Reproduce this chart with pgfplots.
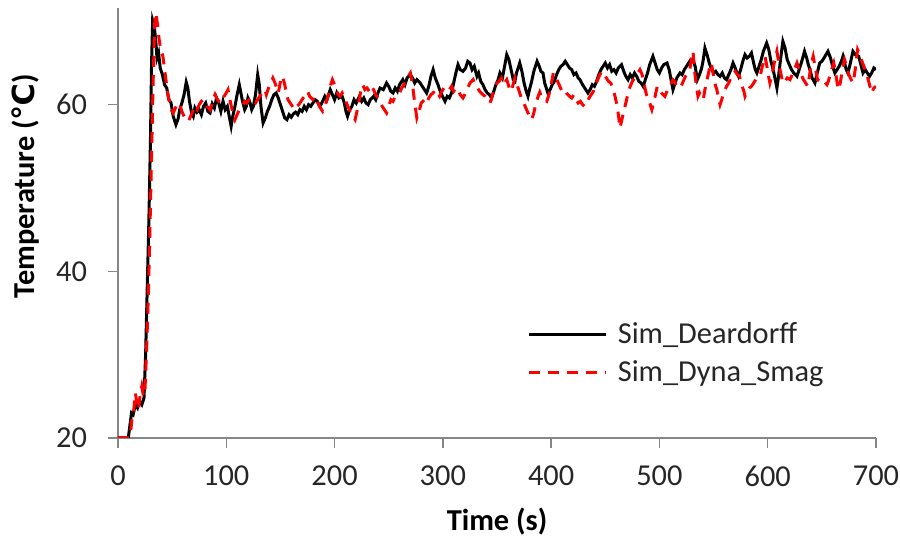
\documentclass[border=0pt]{standalone}
\usepackage{pgfplots}
\pgfplotsset{compat=1.18}
\usepackage{fontspec}
\setmainfont{Carlito}
\newfontfamily\dejavu{DejaVu Sans}
\definecolor{axgray}{RGB}{134,134,134}
\definecolor{txt}{RGB}{38,38,38}

\begin{document}
\begin{tikzpicture}
\begin{axis}[
  scale only axis, width=379pt, height=215pt,
  xmin=0, xmax=700, ymin=20, ymax=71.6,
  axis lines=left,
  axis line style={-, draw=axgray, line width=0.75pt},
  xtick={0,100,...,700}, ytick={20,40,60},
  tick align=outside, major tick length=5pt,
  tick style={draw=axgray, line width=0.75pt},
  /pgf/number format/assume math mode=true,
  tick label style={font=\fontsize{15.2}{18}\selectfont, text=txt},
  yticklabel style={xshift=-7pt},
  xticklabel style={yshift=-5.5pt},
  xlabel={Time (s)},
  ylabel={Temperature ({\dejavu\bfseries ℃})},
  label style={font=\fontsize{15.2}{18}\selectfont\bfseries},
  xlabel style={at={(axis description cs:0.5,-0.1953)}, anchor=center},
  ylabel style={at={(axis description cs:-0.1214,0.586)}, anchor=center},
  legend style={at={(axis description cs:0.737,0.1965)}, anchor=center,
    draw=none, fill=none, font=\fontsize{15.2}{18}\selectfont, text=txt,
    nodes={inner sep=1pt}, row sep=5pt, cells={anchor=west},
    /tikz/every odd column/.append style={column sep=4pt}},
  legend image code/.code={\draw[#1] (0pt,0pt) -- (38.5pt,0pt);},
]
\addplot[black, line width=1.5pt] coordinates {
(0,20) (5,20) (9.5,20) (11,21.5) (12.5,23) (14,22.8) (16,24) (18,23.6) (20,24.4) (22,24) (24,24.8)
(25.5,30) (27,38) (28.5,46) (30,56) (31,65) (32,70.1) (33.5,69.4) (35,67.5) (36,65.6) (37.5,66.2)
(39,64.4) (41,63.6) (43,62.4) (45,62) (47,60.6) (49,60.2) (51,58.6) (53.5,57.6) (55.5,58.3) (57,59.4)
(59,60.2) (61,61.2) (63,62.7) (64.5,62) (66,60.4) (68,59) (69.5,58.6) (71,59.6) (73,59.1) (75,59.4)
(77,58.8) (79,59.8) (81,60.2) (83,59.2) (85,59.0) (87,60.1) (89,59.6) (91,60.8) (93,60.2) (95,59.2)
(97,60.4) (99,59.4) (101,59.8) (103,58.4) (104.5,57.4) (106,58.6) (108,59.8) (110,61.2) (112,62.4)
(113.5,61.4) (115,60.4) (117,59.4) (118.5,59.8) (120,60.8) (122,60.2) (123.5,59.4) (125,59.8)
(127,61.2) (129,63.6) (130.5,62.4) (132,59.8) (134,57.8) (136,58.4) (138,59.2) (140,59.8) (142,60.6)
(144,61.2) (146,61.4) (148,60.8) (150,60.0) (152,59.2) (154,58.4) (156,58.2) (158,58.8) (160,58.5)
(162,58.9) (164,59.1) (166,58.8) (168,59.4) (170,59.2) (172,59.8) (174,59.4) (176,60.0) (178,59.8)
(180,60.2) (182,60.6) (184,60.4) (186.5,59.8) (189,60.4) (191,61.0) (193,60.6) (196,61.8) (198,61.2)
(200,60.6) (202,61.4) (204,60.8) (207,61.0) (209,60.2) (210.5,59.2) (212,58.6) (214,59.4) (216,59.8)
(218,60.6) (220,60.2) (223,61.0) (225,60.4) (227,60.8) (229,60.2) (231,60.0) (233,60.6) (236,61.0)
(238,60.6) (240,61.4) (242,62.0) (245,61.8) (248,62.6) (250,62.2) (252,61.6) (254,61.4) (256,62.0)
(258,61.6) (260,62.4) (263,63.0) (265,62.4) (267,63.2) (270,63.6) (272,63.2) (274,62.6) (276,63.0)
(279,62.6) (281,62.2) (283,61.8) (285,61.4) (287,62.2) (289,63.4) (291,64.2) (293,63.2) (295.5,62.4)
(297,61.8) (299,61.2) (302,60.4) (304,61.0) (306,60.8) (308,61.4) (310,62.6) (312,63.8) (314,64.8)
(316,64.2) (318.6,64.0) (321,64.4) (323,65.2) (325,65.0) (327,64.2) (329,64.6) (331.5,63.4) (333,63.8)
(335,62.8) (337,62.4) (339,61.8) (341,61.4) (343,61.2) (345,60.8) (347,61.6) (349,62.4) (351,63.0)
(352.7,63.8) (355,63.2) (357,64.6) (359,66.0) (361,65.4) (363,64.2) (365,63.0) (366.6,62.8) (368,63.8)
(371,65.0) (373,64.0) (375,62.6) (377,61.6) (378.6,61.0) (380,61.8) (382,62.8) (384,64.0) (387,65.2)
(389,64.6) (390.5,64.0) (392.5,63.8) (394,62.6) (397,61.4) (399,61.8) (401,62.4) (403,62.8) (405,63.6)
(407,64.2) (409,64.6) (411,64.8) (413,65.2) (415,64.8) (417,64.4) (419,64.2) (421,63.6) (423,63.8)
(425,63.2) (426.6,63.0) (429,62.4) (431,62.0) (434,61.4) (436,61.8) (438,62.4) (440,62.2) (442,62.8)
(444,63.6) (446,64.2) (448,64.6) (450,65.0) (452,64.4) (454,64.8) (456,64.0) (458,64.2) (460,63.8)
(462,64.4) (465,64.8) (467,64.0) (469,63.4) (471,63.0) (473,63.6) (475,63.2) (477,63.8) (479,63.4)
(481,62.8) (483,62.6) (485,62.2) (487,63.0) (489,63.8) (491,64.8) (494,65.8) (496,65.0) (498,64.2)
(500,63.8) (502,64.4) (504,64.8) (507,65.0) (509,64.2) (511,62.8) (512.5,61.8) (514,62.4) (516,63.2)
(519,63.8) (521,63.6) (523,64.2) (525,64.6) (527,65.0) (529,65.4) (531,65.4) (533,64.6) (535,63.0)
(537,63.6) (539,64.4) (540.5,65.4) (542,66.8) (544,66.0) (546,65.0) (548,64.3) (550,63.8) (552,64.0)
(554,63.6) (556,63.4) (558,63.8) (560,63.2) (562,63.0) (564,63.6) (566,64.2) (568,65.0) (570,64.4)
(571.5,63.8) (573,63.4) (575,64.2) (577,65.2) (579,66.0) (581,65.6) (583,65.8) (585,66.2) (587,65.0)
(588.5,64.2) (590,63.8) (592,64.6) (594,65.4) (596,66.4) (599,67.4) (601,66.6) (603,65.2) (605,64.2)
(607,63.0) (608.5,62.0) (610,63.4) (612,65.6) (614,67.6) (616,66.8) (618,65.4) (620.6,64.6) (622,64.2)
(624,63.8) (627,63.4) (629,64.2) (631,65.0) (634,66.4) (636,65.6) (637.5,64.8) (639,64.2) (641,63.2)
(643.6,62.6) (645,63.4) (646.5,64.2) (648,65.0) (650,65.2) (652,65.6) (655.6,66.4) (658,65.6) (660,64.6)
(662,63.8) (664,64.2) (666,64.6) (668,65.2) (669.5,65.8) (671,65.0) (672.5,64.2) (674,63.8) (676,64.8)
(678.7,66.4) (681,66.0) (684,65.8) (686,64.8) (688,63.8) (690,64.2) (692,63.8) (694,63.4) (696,63.8)
(698,64.4) (700,64.2)
};
\addlegendentry{Sim\_Deardorff}
\addplot[red, line width=1.5pt, dash pattern=on 5.5pt off 4pt] coordinates {
(0,20) (5,20) (10,20) (11.5,20.5) (13,22.4) (14.5,23.2) (16,25.4) (17.5,24.2) (19,23.4) (20.5,25.2)
(22,26.2) (23.5,25.0) (25,26.0) (26.5,31) (28,37) (29.5,45) (31,54) (32.5,63) (34,70.2) (35,71.0)
(36.5,69.6) (38,67.8) (39.5,66.6) (41.5,65.8) (43,64.2) (44.5,62.8) (46,61.2) (47.5,60.4) (49,59.4)
(51,59.0) (53,59.6) (55,60.2) (57,60.0) (59,59.2) (61,58.6) (63,58.2) (65,58.0) (67,58.6) (69,59.2)
(71,59.8) (73,59.4) (75,60.0) (77,60.4) (78.5,60.6) (80,60.2) (82,59.8) (84,59.6) (85,59.4) (87,60.2)
(89.6,61.2) (91,60.8) (93,60.4) (95,60.2) (97,60.8) (99,61.2) (101.6,61.8) (103,60.8) (105,59.6)
(106.5,58.8) (108,58.2) (110,58.8) (112,59.4) (115,59.8) (117,60.4) (119,60.2) (122,60.8) (124,60.6)
(127,60.2) (129,60.6) (131,61.0) (133,61.4) (135.7,61.8) (137,61.2) (139,62.0) (141,62.6) (143,63.2)
(145,62.6) (146.5,62.0) (148,61.4) (149.5,62.4) (150.5,63.2) (152,63.4) (154,62.4) (155.5,61.4)
(157,60.6) (159,60.2) (161,59.8) (163,59.4) (165,59.8) (167,60.0) (169,60.4) (171,60.8) (173,61.2)
(175,61.6) (177,61.0) (178.5,60.8) (180,60.6) (182,61.0) (184,60.4) (186,59.8) (188,59.4) (189,59.2)
(191,59.8) (193,60.6) (195,61.6) (196.5,62.4) (198,63.0) (200,62.4) (202,61.6) (203.5,61.2) (205,61.0)
(207,61.4) (209,60.8) (211,60.2) (213,59.6) (215,59.0) (217,58.6) (219,58.2) (221,59.4) (223,60.8)
(224.5,61.8) (226,62.4) (228,61.8) (230,62.0) (232,61.6) (234,62.2) (236,61.8) (238,61.2) (240,60.8)
(242,60.2) (244,59.8) (246,59.4) (248,59.0) (250,59.8) (252,60.6) (254,60.4) (256,61.0) (258,61.2)
(260,61.4) (262,62.0) (264,62.4) (266,62.8) (268,63.4) (270,63.8) (272,62.4) (274,60.2) (276,58.4)
(278,59.2) (280,60.2) (283,60.6) (285,60.2) (287,60.8) (289,61.2) (291,61.4) (293,61.8) (295,61.4)
(297,61.0) (299,61.6) (302,62.2) (304,62.0) (306,61.8) (308,62.2) (310,61.6) (312,62.0) (314,61.8)
(316,61.2) (318.6,60.8) (321,61.4) (323,62.0) (325,62.6) (328,63.0) (330,62.4) (332,62.0) (334,61.6)
(337,61.2) (339,61.0) (341,60.6) (343.5,60.2) (345,60.8) (347,61.6) (350,62.6) (352,62.8) (354,63.2)
(356,62.4) (359,63.0) (360.5,62.4) (362,61.6) (364,62.0) (366.6,63.2) (368,62.6) (370,61.8) (372,61.0)
(374,60.4) (376,59.8) (378,59.2) (380,58.6) (382,58.2) (384,59.0) (386,60.2) (388,61.0) (389.5,61.5)
(391,61.0) (393,60.6) (396,60.4) (398,61.2) (400,62.4) (402,63.8) (404,63.4) (406,62.8) (408,62.2)
(410,61.6) (412,61.8) (414,61.4) (417,61.0) (419,60.8) (421,61.2) (423,60.6) (425,60.2) (427,60.4)
(429,60.0) (431,59.8) (433,60.2) (435,60.8) (437,61.2) (439,61.6) (441,62.4) (443,63.0) (445,63.6)
(447,64.0) (449,63.6) (451,63.2) (453,62.8) (455,62.6) (457,62.0) (459,61.0) (461,59.8) (462.5,58.4)
(463.5,57.2) (465,58.0) (467,59.2) (469,60.2) (471,61.4) (473,62.2) (475,62.8) (477,63.2) (479,63.6)
(482,64.2) (484,63.6) (486,62.4) (488,61.2) (490,60.6) (491.5,60.0) (493,59.4) (495,60.4) (497,61.6)
(498,62.2) (500,61.8) (502,61.4) (505,61.0) (507,61.6) (509,62.2) (511,62.6) (512.5,63.0) (514,62.8)
(516,62.2) (518,62.4) (520,62.2) (522,62.8) (524,63.4) (526,63.8) (528,64.2) (529.5,65.4) (531,66.4)
(532.5,64.0) (534,62.4) (535.6,61.0) (537,61.4) (539,60.8) (540.5,60.6) (542,61.8) (544,63.0)
(546,64.2) (548,65.0) (550,63.4) (552,62.2) (553,61.8) (555,60.6) (556,60.0) (558,60.8) (560,61.6)
(562,62.2) (564,62.6) (566,63.2) (568,63.8) (570,64.0) (572,63.6) (574,63.4) (576,62.4) (578,61.6)
(579,61.0) (581,61.6) (583,62.0) (585,62.2) (587,62.6) (589,63.0) (591,63.2) (593,63.4) (595,64.6)
(597.5,65.8) (599,64.8) (600.5,63.6) (602,62.6) (604,63.6) (606,65.0) (608.5,66.4) (610,65.2)
(612,63.8) (614,62.6) (616,62.8) (618,63.2) (620.6,63.0) (622,63.4) (624,64.0) (627,65.0) (629,64.2)
(631,63.6) (633,63.0) (635,62.6) (637,62.2) (638.5,63.4) (640,64.8) (642,65.8) (644,64.4) (646,63.0)
(648,62.8) (650,62.6) (652,62.8) (654.7,62.4) (656,62.8) (658,63.8) (661,65.0) (663,63.6) (665,61.8)
(667,62.6) (669,64.2) (671,65.4) (673,64.6) (675,63.6) (677,63.0) (679,62.6) (681,64.4) (683,66.6)
(685,66.0) (687,65.2) (690,64.2) (692,63.4) (694,62.4) (696,61.4) (698,62.0) (700,62.2)
};
\addlegendentry{Sim\_Dyna\_Smag}
\end{axis}
\pgfresetboundingbox
\path ([shift={(-59pt,-54pt)}]current axis.south west) rectangle ([shift={(12pt,4pt)}]current axis.north east);
\end{tikzpicture}
\end{document}
